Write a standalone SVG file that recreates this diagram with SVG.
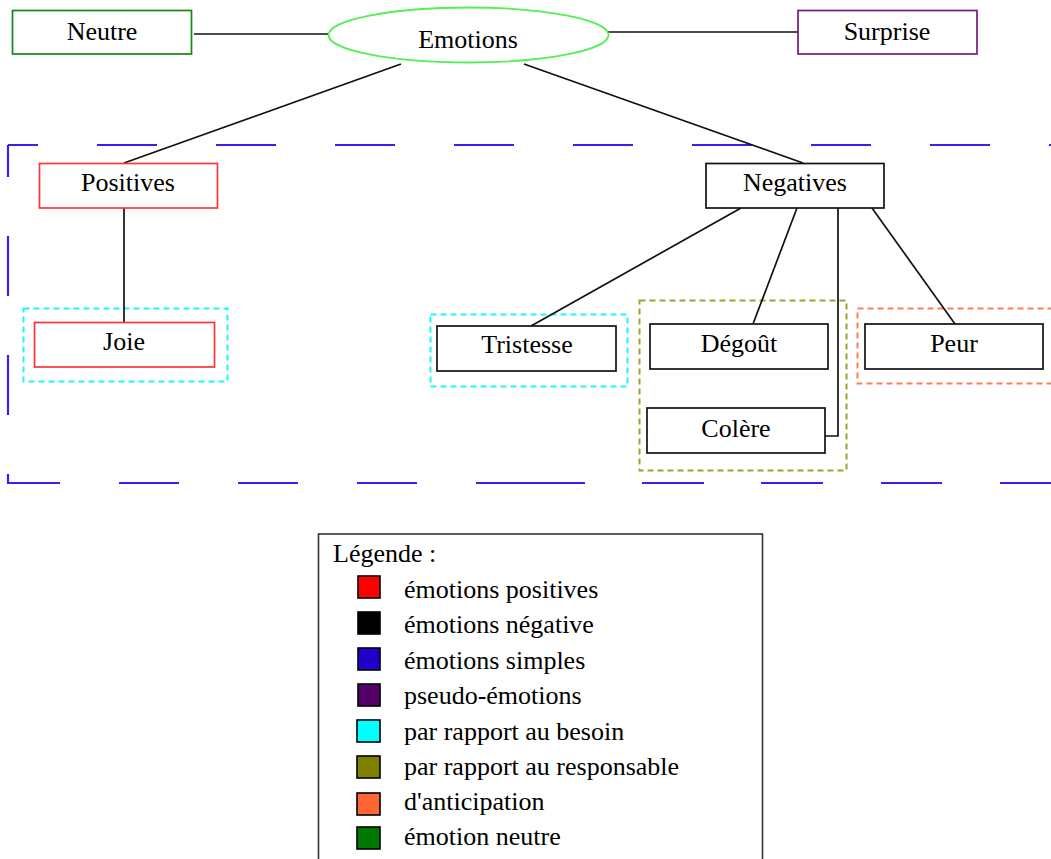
<svg xmlns="http://www.w3.org/2000/svg" width="1051" height="859" viewBox="0 0 1051 859">
<style>
text{font-family:"Liberation Serif","Times New Roman",serif;font-size:26px;fill:#000;text-anchor:middle}
.box{fill:#fff;stroke-width:1.7}
.blk{stroke:#111}
.red{stroke:#ff3333}
.conn line,.conn path{stroke:#111;stroke-width:1.7;fill:none}
.grp{fill:none;stroke-width:2;stroke-dasharray:6 4}
.blue{fill:none;stroke:#3a1ff0;stroke-width:2.2}
.sw{stroke:#000;stroke-width:1.6}
.lg text{text-anchor:start}
</style>
<rect width="1051" height="859" fill="#fff"/>
<g id="frame-simples">
<path class="blue" d="M8,145H1060" stroke-dasharray="60 59" stroke-dashoffset="30"/>
<path class="blue" d="M8,145V483" stroke-dasharray="60 59" stroke-dashoffset="28"/>
<path class="blue" d="M7,483H60M119,483H179M238,483H298M357,483H417M476,483H585M642,483H704M761,483H823M881,483H942M1000,483H1060"/>
</g>
<g id="groups">
<rect class="grp" x="23.5" y="308.5" width="204" height="73" stroke="#22f5f5"/>
<rect class="grp" x="430.5" y="314.5" width="197" height="72" stroke="#22f5f5"/>
<rect class="grp" x="639.5" y="300.5" width="207" height="170" stroke="#a0a030"/>
<rect class="grp" x="857.5" y="308.5" width="220" height="75" stroke="#ff7f55"/>
</g>
<g class="conn" id="connectors">
<line x1="194" y1="34" x2="329" y2="34"/>
<line x1="608" y1="32" x2="798" y2="32"/>
<line x1="401" y1="64" x2="124" y2="163"/>
<line x1="524" y1="64" x2="803" y2="163"/>
<line x1="124" y1="208" x2="124" y2="322"/>
<line x1="741" y1="208" x2="531" y2="326"/>
<line x1="797" y1="208" x2="753" y2="324"/>
<path d="M838,208V436H825"/>
<line x1="872" y1="208" x2="955" y2="324"/>
</g>
<g id="emotions">
<ellipse cx="468.5" cy="35" rx="140" ry="27.5" fill="#fff" stroke="#55ee55" stroke-width="1.8"/>
<text x="468" y="48">Emotions</text>
</g>
<g id="neutre">
<rect class="box" x="12.5" y="10.5" width="179" height="43.5" stroke="#118811"/>
<text x="102" y="40">Neutre</text>
</g>
<g id="surprise">
<rect class="box" x="798" y="10.5" width="179" height="43.5" stroke="#7a1a7a"/>
<text x="887" y="40">Surprise</text>
</g>
<g id="positives">
<rect class="box red" x="39.5" y="163.5" width="178" height="44.5"/>
<text x="128" y="191">Positives</text>
</g>
<g id="negatives">
<rect class="box blk" x="706" y="163.5" width="178" height="44.5"/>
<text x="795" y="191">Negatives</text>
</g>
<g id="joie">
<rect class="box red" x="34.5" y="322.5" width="180" height="44.5"/>
<text x="124" y="350">Joie</text>
</g>
<g id="tristesse">
<rect class="box blk" x="437" y="326" width="179" height="45"/>
<text x="527" y="353">Tristesse</text>
</g>
<g id="degout">
<rect class="box blk" x="650" y="324" width="178" height="45"/>
<text x="739" y="352">Dégoût</text>
</g>
<g id="colere">
<rect class="box blk" x="647" y="408" width="178" height="45"/>
<text x="736" y="437">Colère</text>
</g>
<g id="peur">
<rect class="box blk" x="865" y="324" width="178" height="45"/>
<text x="954" y="352">Peur</text>
</g>
<g id="legende" class="lg">
<rect x="318.5" y="534" width="444" height="400" fill="#fff" stroke="#333" stroke-width="1.6"/>
<text x="333" y="562">Légende :</text>
<rect class="sw" x="358" y="576" width="22" height="22" fill="#ff0000"/>
<text x="404" y="598">émotions positives</text>
<rect class="sw" x="358" y="612" width="22" height="22" fill="#000000"/>
<text x="404" y="633">émotions négative</text>
<rect class="sw" x="358" y="648" width="22" height="22" fill="#2200cc"/>
<text x="404" y="669">émotions simples</text>
<rect class="sw" x="358" y="684" width="22" height="22" fill="#550066"/>
<text x="404" y="704">pseudo-émotions</text>
<rect class="sw" x="357" y="720" width="23" height="22" fill="#00ffff"/>
<text x="404" y="740">par rapport au besoin</text>
<rect class="sw" x="357" y="756" width="23" height="22" fill="#808000"/>
<text x="404" y="775">par rapport au responsable</text>
<rect class="sw" x="357" y="793" width="23" height="22" fill="#ff6633"/>
<text x="404" y="810">d'anticipation</text>
<rect class="sw" x="357" y="827" width="23" height="22" fill="#007700"/>
<text x="404" y="845">émotion neutre</text>
</g>
</svg>
